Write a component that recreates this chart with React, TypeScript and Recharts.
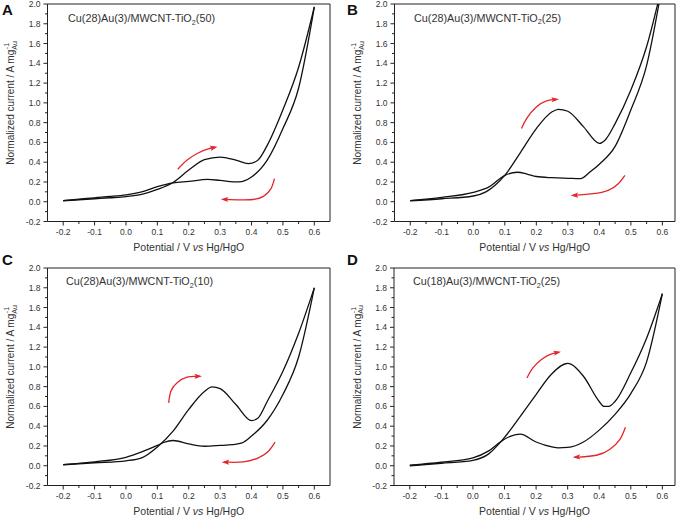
import React from 'react';
import { LineChart, Line, XAxis, YAxis, ReferenceLine } from 'recharts';

type Pt = { E: number; I: number };
const P = (arr: number[][]): Pt[] => arr.map(([E, I]) => ({ E, I }));

// ticks
const xMajorTicks = [-0.2, -0.1, 0.0, 0.1, 0.2, 0.3, 0.4, 0.5, 0.6];
const xMinorTicks = [-0.15, -0.05, 0.05, 0.15, 0.25, 0.35, 0.45, 0.55];
const xTickLabels = ['-0.2', '-0.1', '0.0', '0.1', '0.2', '0.3', '0.4', '0.5', '0.6'];
const yMajorTicks = [-0.2, 0.0, 0.2, 0.4, 0.6, 0.8, 1.0, 1.2, 1.4, 1.6, 1.8, 2.0];
const yMinorTicks = [-0.1, 0.1, 0.3, 0.5, 0.7, 0.9, 1.1, 1.3, 1.5, 1.7, 1.9];
const yTickLabels = ['-0.2', '0.0', '0.2', '0.4', '0.6', '0.8', '1.0', '1.2', '1.4', '1.6', '1.8', '2.0'];

// panel texts
const panelLetters = ['A', 'B', 'C', 'D'];
const panelTitles = [
  ['Cu(28)Au(3)/MWCNT-TiO', '2', '(50)'],
  ['Cu(28)Au(3)/MWCNT-TiO', '2', '(25)'],
  ['Cu(28)Au(3)/MWCNT-TiO', '2', '(10)'],
  ['Cu(18)Au(3)/MWCNT-TiO', '2', '(25)'],
];

// Panel A
const aForward = P([[-0.2, 0.01], [-0.15, 0.02], [-0.1, 0.03], [-0.05, 0.04], [0, 0.052], [0.05, 0.075], [0.1, 0.125], [0.15, 0.195], [0.2, 0.32], [0.25, 0.425], [0.3, 0.452], [0.35, 0.42], [0.39, 0.385], [0.42, 0.42], [0.45, 0.57], [0.5, 0.93], [0.55, 1.36], [0.6, 1.97]]);
const aReverse = P([[-0.2, 0.012], [-0.15, 0.025], [-0.1, 0.04], [-0.05, 0.053], [0, 0.07], [0.05, 0.1], [0.1, 0.152], [0.15, 0.19], [0.2, 0.205], [0.26, 0.226], [0.3, 0.215], [0.36, 0.2], [0.4, 0.25], [0.45, 0.42], [0.5, 0.74], [0.55, 1.15], [0.6, 1.97]]);
const aArrowUp = P([[0.165, 0.328], [0.194, 0.419], [0.23, 0.493], [0.262, 0.535], [0.284, 0.551]]);
const aArrowDown = P([[0.473, 0.233], [0.462, 0.132], [0.438, 0.054], [0.395, 0.02], [0.33, 0.022], [0.31, 0.024]]);

// Panel B
const bForward = P([[-0.2, 0.01], [-0.1, 0.03], [0, 0.058], [0.04, 0.1], [0.07, 0.17], [0.1, 0.267], [0.15, 0.5], [0.2, 0.74], [0.25, 0.91], [0.27, 0.935], [0.3, 0.915], [0.35, 0.757], [0.4, 0.59], [0.42, 0.63], [0.45, 0.79], [0.5, 1.13], [0.55, 1.57], [0.6, 2.2]]);
const bReverse = P([[-0.2, 0.012], [-0.1, 0.045], [0, 0.095], [0.05, 0.15], [0.1, 0.267], [0.14, 0.298], [0.17, 0.28], [0.2, 0.255], [0.25, 0.243], [0.3, 0.237], [0.34, 0.233], [0.37, 0.3], [0.4, 0.38], [0.45, 0.56], [0.5, 0.93], [0.55, 1.38], [0.6, 2.2]]);
const bArrowUp = P([[0.153, 0.74], [0.169, 0.841], [0.2, 0.959], [0.232, 1.02], [0.252, 1.032], [0.264, 1.034]]);
const bArrowDown = P([[0.481, 0.267], [0.46, 0.182], [0.428, 0.115], [0.38, 0.081], [0.33, 0.066], [0.317, 0.064]]);

// Panel C
const cForward = P([[-0.2, 0.01], [-0.1, 0.03], [0, 0.05], [0.05, 0.08], [0.1, 0.19], [0.15, 0.35], [0.2, 0.57], [0.25, 0.75], [0.274, 0.797], [0.3, 0.78], [0.35, 0.62], [0.4, 0.457], [0.42, 0.48], [0.45, 0.65], [0.5, 0.955], [0.55, 1.34], [0.6, 1.8]]);
const cReverse = P([[-0.2, 0.012], [-0.1, 0.04], [0, 0.085], [0.05, 0.14], [0.1, 0.205], [0.12, 0.235], [0.15, 0.255], [0.2, 0.22], [0.25, 0.197], [0.3, 0.205], [0.34, 0.214], [0.37, 0.23], [0.4, 0.3], [0.45, 0.46], [0.5, 0.72], [0.55, 1.1], [0.6, 1.8]]);
const cArrowUp = P([[0.136, 0.635], [0.143, 0.753], [0.162, 0.838], [0.194, 0.895], [0.222, 0.904], [0.234, 0.905]]);
const cArrowDown = P([[0.475, 0.238], [0.454, 0.147], [0.422, 0.08], [0.374, 0.039], [0.325, 0.036], [0.313, 0.036]]);

// Panel D
const dForward = P([[-0.2, 0.0], [-0.1, 0.025], [0, 0.055], [0.05, 0.12], [0.09, 0.248], [0.15, 0.5], [0.2, 0.72], [0.25, 0.93], [0.3, 1.035], [0.35, 0.905], [0.4, 0.65], [0.415, 0.6], [0.43, 0.6], [0.45, 0.65], [0.5, 0.94], [0.55, 1.29], [0.6, 1.74]]);
const dReverse = P([[-0.2, 0.005], [-0.1, 0.035], [0, 0.08], [0.05, 0.15], [0.09, 0.248], [0.12, 0.3], [0.15, 0.32], [0.2, 0.24], [0.25, 0.19], [0.27, 0.18], [0.3, 0.185], [0.35, 0.24], [0.4, 0.36], [0.45, 0.52], [0.5, 0.73], [0.55, 1.05], [0.6, 1.74]]);
const dArrowUp = P([[0.171, 0.888], [0.19, 0.989], [0.216, 1.073], [0.243, 1.124], [0.262, 1.142], [0.271, 1.148]]);
const dArrowDown = P([[0.483, 0.39], [0.465, 0.265], [0.433, 0.164], [0.391, 0.106], [0.336, 0.088], [0.324, 0.086]]);

const FONT = '"Liberation Sans", Arial, sans-serif';
const AX = '#222';
const TXT = '#333';
const RED = '#e3262c';
const CURVE = '#111';

const isAt = (v: number, arr: number[]) => arr.findIndex((m) => Math.abs(m - v) < 1e-6);

function XTick(props: any) {
  const { x, y, payload } = props;
  const idx = isAt(payload.value, xMajorTicks);
  const major = idx >= 0;
  return (
    <g>
      <line x1={x} x2={x} y1={y} y2={y + (major ? 4 : 2.5)} stroke={AX} strokeWidth={1} />
      {major && (
        <text x={x} y={y + 13.5} textAnchor="middle" fontSize={8.5} fill={TXT} fontFamily={FONT}>
          {xTickLabels[idx]}
        </text>
      )}
    </g>
  );
}

function YTick(props: any) {
  const { x, y, payload } = props;
  const idx = isAt(payload.value, yMajorTicks);
  const major = idx >= 0;
  return (
    <g>
      <line x1={x} x2={x - (major ? 4 : 2.5)} y1={y} y2={y} stroke={AX} strokeWidth={1} />
      {major && (
        <text x={x - 7} y={y + 3} textAnchor="end" fontSize={8.5} fill={TXT} fontFamily={FONT}>
          {yTickLabels[idx]}
        </text>
      )}
    </g>
  );
}

function arrowDot(pts: Pt[], kx: number, ky: number) {
  return (props: any) => {
    const { cx, cy, index } = props;
    if (index !== pts.length - 1 || cx == null) return <g key={`d${index}`} />;
    const a = pts[pts.length - 2];
    const b = pts[pts.length - 1];
    const ang = (Math.atan2(-(b.I - a.I) * ky, (b.E - a.E) * kx) * 180) / Math.PI;
    return (
      <path
        key={`d${index}`}
        d="M2.5,0 L-5,-2.6 L-3.5,0 L-5,2.6 Z"
        transform={`translate(${cx},${cy}) rotate(${ang})`}
        fill={RED}
        stroke="none"
      />
    );
  };
}

type Cfg = {
  ox: number; oy: number; w: number; h: number;
  pl: number; pt: number; pw: number; ph: number;
  xDomain: [number, number];
  fwd: Pt[]; rev: Pt[]; up: Pt[]; down: Pt[];
  letterX: number; letterY: number; titleX: number; titleY: number;
};

const panels: Cfg[] = [
  { ox: 0, oy: 0, w: 340, h: 259, pl: 47.5, pt: 4, pw: 282.5, ph: 217.5, xDomain: [-0.25, 0.65], fwd: aForward, rev: aReverse, up: aArrowUp, down: aArrowDown, letterX: 2, letterY: 14.5, titleX: 68, titleY: 22 },
  { ox: 340, oy: 0, w: 339, h: 259, pl: 394.5, pt: 4, pw: 280.5, ph: 217.5, xDomain: [-0.25, 0.64], fwd: bForward, rev: bReverse, up: bArrowUp, down: bArrowDown, letterX: 347, letterY: 14.5, titleX: 414, titleY: 21.5 },
  { ox: 0, oy: 259, w: 340, h: 259, pl: 47.5, pt: 268, pw: 282.5, ph: 217.5, xDomain: [-0.25, 0.65], fwd: cForward, rev: cReverse, up: cArrowUp, down: cArrowDown, letterX: 2, letterY: 264.5, titleX: 66, titleY: 285 },
  { ox: 340, oy: 259, w: 339, h: 259, pl: 394, pt: 268, pw: 281, ph: 217.5, xDomain: [-0.25, 0.64], fwd: dForward, rev: dReverse, up: dArrowUp, down: dArrowDown, letterX: 347, letterY: 264.5, titleX: 413, titleY: 285 },
];

function Panel({ c }: { c: Cfg }) {
  const kx = c.pw / (c.xDomain[1] - c.xDomain[0]);
  const ky = c.ph / 2.2;
  return (
    <div style={{ position: 'absolute', left: c.ox, top: c.oy }}>
      <LineChart
        width={c.w}
        height={c.h}
        margin={{ top: c.pt - c.oy, right: c.ox + c.w - c.pl - c.pw, bottom: 0, left: 0 }}
      >
        <XAxis
          type="number"
          dataKey="E"
          domain={c.xDomain}
          ticks={[...xMajorTicks, ...xMinorTicks]}
          interval={0}
          tick={(p: any) => <XTick {...p} />}
          tickLine={false}
          tickSize={0}
          tickMargin={0}
          height={c.oy + c.h - c.pt - c.ph}
          axisLine={{ stroke: AX, strokeWidth: 1 }}
          allowDataOverflow
        />
        <YAxis
          type="number"
          domain={[-0.2, 2.0]}
          ticks={[...yMajorTicks, ...yMinorTicks]}
          interval={0}
          tick={(p: any) => <YTick {...p} />}
          tickLine={false}
          tickSize={0}
          tickMargin={0}
          width={c.pl - c.ox}
          axisLine={{ stroke: AX, strokeWidth: 1 }}
          allowDataOverflow
        />
        <ReferenceLine y={2.0} stroke={AX} strokeWidth={1} />
        <ReferenceLine x={c.xDomain[1]} stroke={AX} strokeWidth={1} />
        <Line data={c.fwd} dataKey="I" type="monotone" stroke={CURVE} strokeWidth={1.3} dot={false} activeDot={false} isAnimationActive={false} />
        <Line data={c.rev} dataKey="I" type="monotone" stroke={CURVE} strokeWidth={1.3} dot={false} activeDot={false} isAnimationActive={false} />
        <Line data={c.up} dataKey="I" type="natural" stroke={RED} strokeWidth={1.3} dot={arrowDot(c.up, kx, ky)} activeDot={false} isAnimationActive={false} />
        <Line data={c.down} dataKey="I" type="natural" stroke={RED} strokeWidth={1.3} dot={arrowDot(c.down, kx, ky)} activeDot={false} isAnimationActive={false} />
      </LineChart>
    </div>
  );
}

function Overlay() {
  return (
    <svg width={679} height={518} style={{ position: 'absolute', left: 0, top: 0, pointerEvents: 'none' }}>
      {panels.map((c, i) => {
        const ylx = c.pl - 33.5;
        const yly = c.pt + 99;
        return (
          <g key={i} fontFamily={FONT}>
            <text x={c.letterX} y={c.letterY} fontSize={15} fontWeight="bold" fill="#111">
              {panelLetters[i]}
            </text>
            <text x={c.titleX} y={c.titleY} fontSize={10.8} fill={TXT}>
              {panelTitles[i][0]}
              <tspan fontSize={7.2} dy={2.5}>{panelTitles[i][1]}</tspan>
              <tspan dy={-2.5}>{panelTitles[i][2]}</tspan>
            </text>
            <text x={c.pl + c.pw / 2} y={c.pt + c.ph + 29} fontSize={10.5} fill={TXT} textAnchor="middle">
              {'Potential / V '}
              <tspan fontStyle="italic">vs</tspan>
              {' Hg/HgO'}
            </text>
            <text
              x={ylx}
              y={yly}
              fontSize={10}
              fill={TXT}
              textAnchor="middle"
              transform={`rotate(-90, ${ylx}, ${yly})`}
            >
              {'Normalized current / A mg'}
              <tspan fontSize={7} dy={2.5}>Au</tspan>
              <tspan fontSize={7} dx={-8} dy={-7.5}>-1</tspan>
            </text>
          </g>
        );
      })}
    </svg>
  );
}

export default function App() {
  return (
    <div style={{ position: 'absolute', left: 0, top: 0, width: 679, height: 518, background: '#fff', overflow: 'hidden' }}>
      {panels.map((c, i) => (
        <Panel key={i} c={c} />
      ))}
      <Overlay />
    </div>
  );
}
